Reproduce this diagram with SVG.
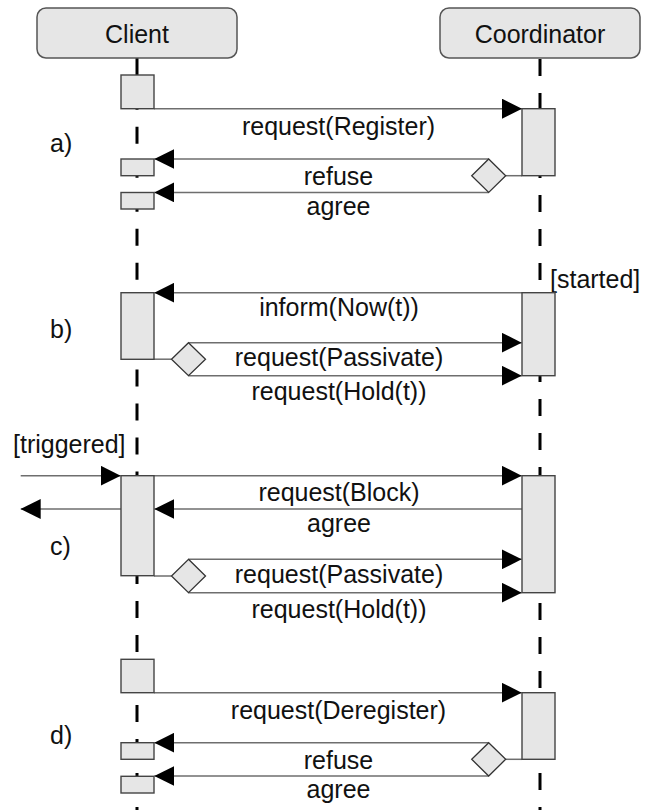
<svg xmlns="http://www.w3.org/2000/svg" width="645" height="810" viewBox="0 0 645 810">
<defs>
<style>
text { font-family: "Liberation Sans", Arial, sans-serif; font-size: 25px; fill: #111; }
.c { text-anchor: middle; }
.head { fill: #e6e6e6; stroke: #555; stroke-width: 1.5; }
.act { fill: #e6e6e6; stroke: #444; stroke-width: 1.4; }
.dia { fill: #e6e6e6; stroke: #333; stroke-width: 1.3; }
.life { stroke: #000; stroke-width: 3; fill: none; }
.dash { stroke-dasharray: 17 17; }
.msg { stroke: #6e6e6e; stroke-width: 1.5; fill: none; }
.arr { marker-end: url(#ah); }
</style>
<marker id="ah" markerUnits="userSpaceOnUse" markerWidth="20" markerHeight="20" refX="20" refY="10" orient="auto" viewBox="0 0 20 20">
<path d="M0,0 L20,10 L0,20 z" fill="#000"/>
</marker>
</defs>

<g id="lifelines">
<line class="life" x1="137" y1="58" x2="137" y2="75"/>
<line class="life dash" x1="137" y1="108.7" x2="137" y2="292.7" stroke-dashoffset="16"/>
<line class="life dash" x1="137" y1="359.3" x2="137" y2="475.7" stroke-dashoffset="23.8"/>
<line class="life dash" x1="137" y1="575.7" x2="137" y2="659.3" stroke-dashoffset="8.7"/>
<line class="life dash" x1="137" y1="692.7" x2="137" y2="810" stroke-dashoffset="21.7"/>
<line class="life dash" x1="540" y1="58" x2="540" y2="810" stroke-dashoffset="33"/>
</g>

<g id="connectors">
<line class="msg arr" x1="154" y1="108.7" x2="522" y2="108.7"/>
<line class="msg" x1="522" y1="175.7" x2="505.7" y2="175.7"/>
<line class="msg arr" x1="488.7" y1="159" x2="154.3" y2="159"/>
<line class="msg arr" x1="488.7" y1="192.4" x2="154.3" y2="192.4"/>

<line class="msg arr" x1="522" y1="292.7" x2="154.3" y2="292.7"/>
<line class="msg" x1="154" y1="359.2" x2="171.5" y2="359.2"/>
<line class="msg arr" x1="188.5" y1="342.7" x2="521.7" y2="342.7"/>
<line class="msg arr" x1="188.5" y1="375.7" x2="521.7" y2="375.7"/>

<line class="msg arr" x1="20.7" y1="475.7" x2="120.7" y2="475.7"/>
<line class="msg arr" x1="154" y1="475.7" x2="521.7" y2="475.7"/>
<line class="msg arr" x1="522" y1="509" x2="154.3" y2="509"/>
<line class="msg arr" x1="121" y1="509" x2="20.7" y2="509"/>
<line class="msg" x1="154" y1="576" x2="171.5" y2="576"/>
<line class="msg arr" x1="188.5" y1="559.3" x2="521.7" y2="559.3"/>
<line class="msg arr" x1="188.5" y1="592.7" x2="521.7" y2="592.7"/>

<line class="msg arr" x1="154" y1="692.7" x2="521.7" y2="692.7"/>
<line class="msg" x1="522" y1="759.3" x2="505.7" y2="759.3"/>
<line class="msg arr" x1="488.7" y1="742.7" x2="154.3" y2="742.7"/>
<line class="msg arr" x1="488.7" y1="776" x2="154.3" y2="776"/>

<text class="c" x="338.5" y="135">request(Register)</text>
<text class="c" x="338.5" y="185">refuse</text>
<text class="c" x="338.5" y="215">agree</text>
<text class="c" x="339" y="316">inform(Now(t))</text>
<text class="c" x="339" y="366">request(Passivate)</text>
<text class="c" x="339" y="399.5">request(Hold(t))</text>
<text class="c" x="339" y="501">request(Block)</text>
<text class="c" x="339" y="532">agree</text>
<text class="c" x="339" y="583">request(Passivate)</text>
<text class="c" x="339" y="618">request(Hold(t))</text>
<text class="c" x="338.5" y="719">request(Deregister)</text>
<text class="c" x="338.5" y="769">refuse</text>
<text class="c" x="338.5" y="798">agree</text>
<text x="550" y="288">[started]</text>
<text x="13" y="453">[triggered]</text>
</g>

<g id="client">
<rect class="head" x="37" y="8" width="200" height="50" rx="9"/>
<text class="c" x="137" y="43">Client</text>
</g>
<g id="coordinator">
<rect class="head" x="440" y="8" width="200" height="50" rx="9"/>
<text class="c" x="540" y="43">Coordinator</text>
</g>

<g id="client-act-a1"><rect class="act" x="121" y="75" width="33" height="33.7"/></g>
<g id="client-act-a2"><rect class="act" x="121" y="159" width="33" height="16.7"/></g>
<g id="client-act-a3"><rect class="act" x="121" y="192.5" width="33" height="16.5"/></g>
<g id="client-act-b"><rect class="act" x="121" y="292.7" width="33" height="66.6"/></g>
<g id="client-act-c"><rect class="act" x="121" y="475.7" width="33" height="100"/></g>
<g id="client-act-d1"><rect class="act" x="121" y="659.3" width="33" height="33.4"/></g>
<g id="client-act-d2"><rect class="act" x="121" y="742.7" width="33" height="16.6"/></g>
<g id="client-act-d3"><rect class="act" x="121" y="776.3" width="33" height="16.7"/></g>

<g id="coord-act-a"><rect class="act" x="522" y="108.7" width="33" height="67"/></g>
<g id="coord-act-b"><rect class="act" x="522" y="292.7" width="33" height="83"/></g>
<g id="coord-act-c"><rect class="act" x="522" y="475.7" width="33" height="117"/></g>
<g id="coord-act-d"><rect class="act" x="522" y="692.7" width="33" height="66.6"/></g>

<g id="branch-a"><polygon class="dia" points="488.7,159 505.7,175.7 488.7,192.4 471.7,175.7"/></g>
<g id="branch-b"><polygon class="dia" points="188.5,342.7 205.5,359.2 188.5,375.7 171.5,359.2"/></g>
<g id="branch-c"><polygon class="dia" points="188.5,559.3 205.5,576 188.5,592.7 171.5,576"/></g>
<g id="branch-d"><polygon class="dia" points="488.7,742.7 505.7,759.3 488.7,776 471.7,759.3"/></g>

<g id="section-labels">
<text x="50" y="152">a)</text>
<text x="50" y="338">b)</text>
<text x="50" y="555">c)</text>
<text x="50" y="744">d)</text>
</g>
</svg>
